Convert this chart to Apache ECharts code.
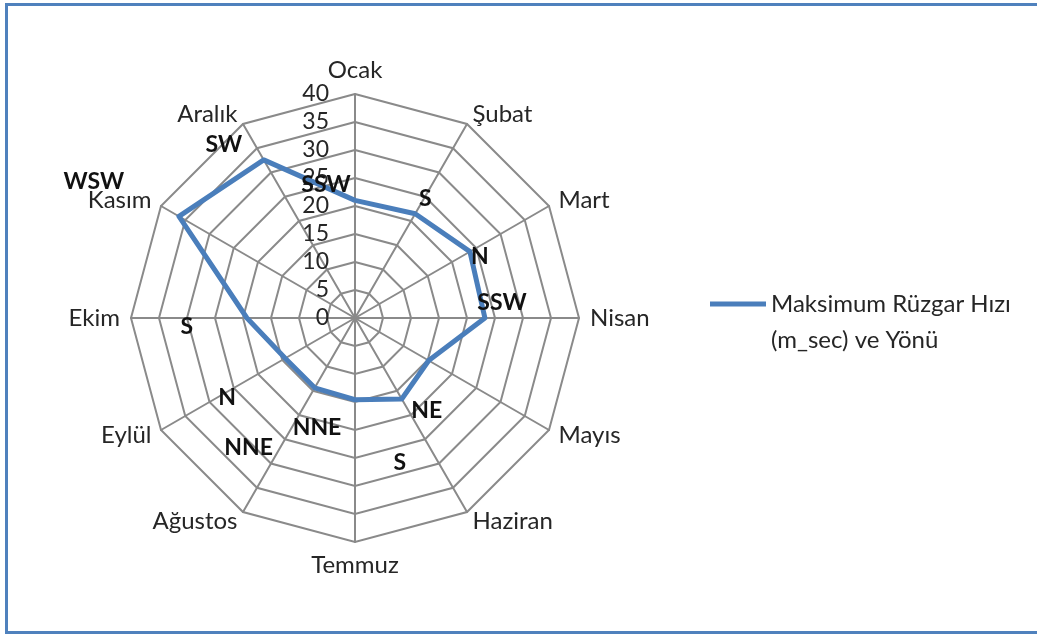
<!DOCTYPE html>
<html>
<head>
<meta charset="utf-8">
<script src="https://cdn.jsdelivr.net/npm/echarts@6/dist/echarts.min.js"></script>
<style>
  body { margin: 0; background: #fff; }
  #frame { position: absolute; left: 5px; top: 3px; width: 1040px; height: 631px; box-sizing: border-box; border: 3px solid #4f81bd; }
  #myChart { position: absolute; left: 0; top: 0; width: 1037px; height: 637px; }
</style>
</head>
<body>
<div id="frame"></div>
<div id="myChart"></div>
<script>
var months = ['Ocak', 'Şubat', 'Mart', 'Nisan', 'Mayıs', 'Haziran', 'Temmuz', 'Ağustos', 'Eylül', 'Ekim', 'Kasım', 'Aralık'];
var speeds = [21, 21.5, 23.7, 23.2, 15.2, 16.7, 14.6, 14.4, 14.4, 19.3, 36.3, 32.6];
var directions = ['SSW', 'S', 'N', 'SSW', 'NE', 'S', 'NNE', 'NNE', 'N', 'S', 'WSW', 'SW'];
var seriesName = 'Maksimum Rüzgar Hızı\n(m_sec) ve Yönü';
var axisMax = 40;

// where each direction label sits relative to its point (hand placed in the original)
var labelOffsets = [[-29, -16], [10, -15], [10, 5], [17, -15], [-2, 50], [-2, 64],
  [-38, 28], [-66, 60], [-58, 39], [-60, 9], [-85, -35], [-40, -15]];

var myChart = echarts.init(document.getElementById('myChart'));

// radar goes counter-clockwise, so feed months as Ocak, Aralık, Kasım ... Şubat
var order = [0];
for (var k = months.length - 1; k > 0; k--) order.push(k);

var indicators = order.map(function (m, i) {
  var ind = { name: months[m], min: 0, max: axisMax };
  if (i === 0) ind.axisLabel = { show: true };
  return ind;
});
var values = order.map(function (m) { return speeds[m]; });

var rich = {};
order.forEach(function (m, i) {
  var dx = labelOffsets[m][0], dy = labelOffsets[m][1];
  rich['d' + i] = {
    fontFamily: 'Lato',
    fontWeight: 'bold',
    fontSize: 23,
    color: '#111',
    padding: [dy > 0 ? 2 * dy : 0, dx < 0 ? -2 * dx : 0, dy < 0 ? -2 * dy : 0, dx > 0 ? 2 * dx : 0]
  };
});

var option = {
  animation: false,
  legend: {
    left: 710,
    top: 250,
    padding: 0,
    icon: 'rect',
    itemWidth: 56,
    itemHeight: 5,
    // empty first line keeps the icon level with the first text line
    formatter: function (name) { return '\n' + name; },
    textStyle: {
      fontFamily: 'Lato',
      fontSize: 24,
      color: '#262626',
      lineHeight: 36
    },
    data: [seriesName]
  },
  radar: {
    center: [355, 318],
    radius: 224,
    shape: 'polygon',
    splitNumber: 8,
    startAngle: 90,
    indicator: indicators,
    axisName: {
      color: '#262626',
      fontFamily: 'Lato',
      fontSize: 24
    },
    nameGap: 11,
    axisLine: { lineStyle: { color: '#8a8a8a', width: 2 } },
    splitLine: { lineStyle: { color: '#8a8a8a', width: 2 } },
    splitArea: { show: false },
    axisTick: { show: false },
    axisLabel: {
      show: false,
      fontFamily: 'Lato',
      fontSize: 23,
      color: '#262626',
      margin: 26
    }
  },
  series: [{
    name: seriesName,
    type: 'radar',
    symbol: 'circle',
    symbolSize: 0,
    lineStyle: { color: '#4a7ebb', width: 5 },
    itemStyle: { color: '#4a7ebb' },
    label: {
      show: true,
      position: 'inside',
      formatter: function (p) {
        var i = p.dimensionIndex;
        return '{d' + i + '|' + directions[order[i]] + '}';
      },
      rich: rich
    },
    data: [{ value: values, name: seriesName }]
  }]
};

myChart.setOption(option);
</script>
</body>
</html>
